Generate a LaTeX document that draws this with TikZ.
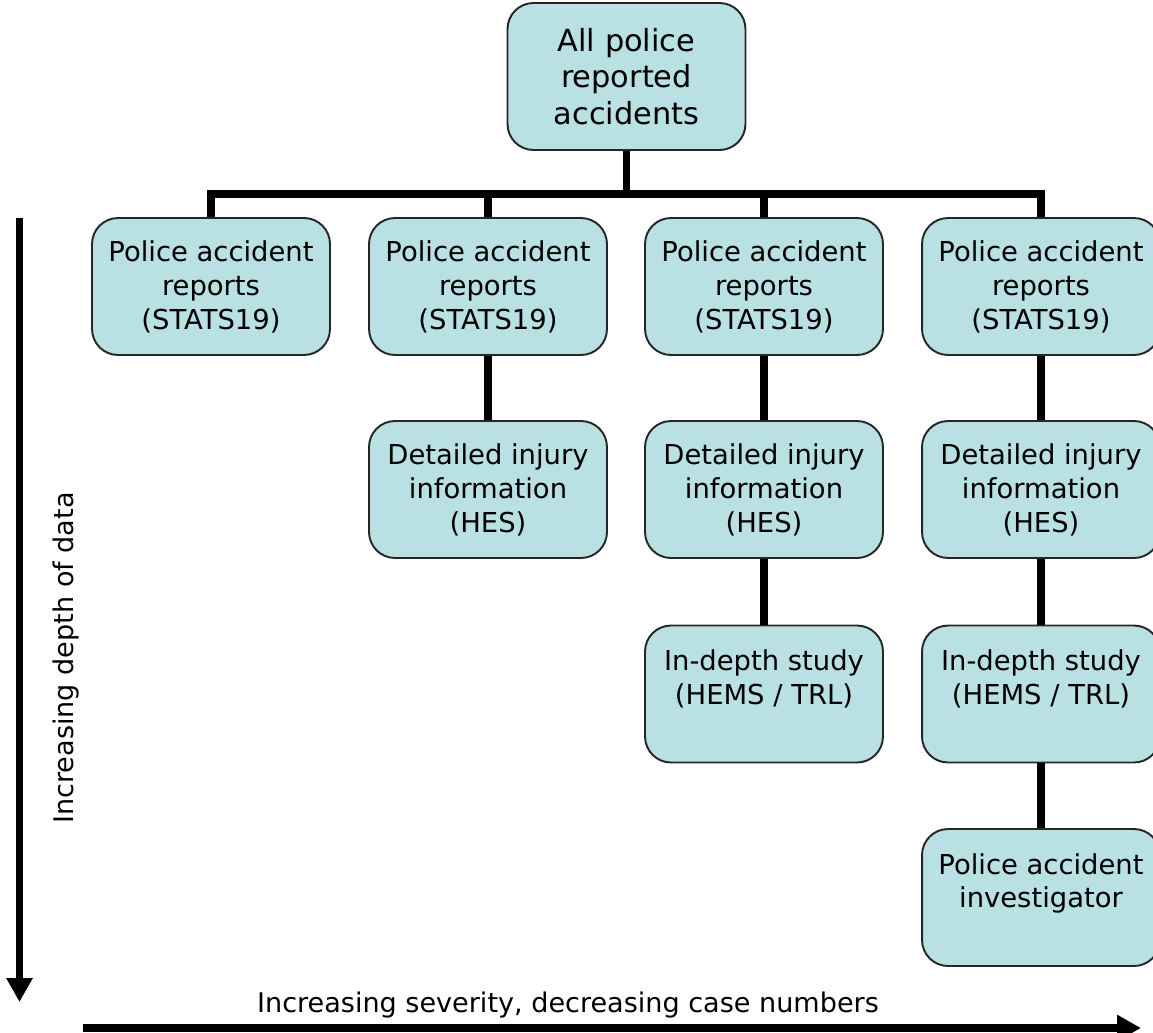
\documentclass[tikz,border=0pt]{standalone}
\usepackage{fontspec}
\setmainfont{DejaVu Sans}
\usetikzlibrary{arrows.meta,positioning}
\definecolor{boxfill}{RGB}{185,224,227}

\begin{document}
\begin{tikzpicture}[x=0.02cm, y=-0.02cm,
    stage/.style={draw=black!85, line width=1.1pt, fill=boxfill, rounded corners=0.52cm,
        minimum width=4.76cm, minimum height=2.74cm, align=center,
        font=\fontsize{15.6}{19.3}\selectfont},
    link/.style={line width=4.4pt},
    axisarrow/.style={line width=#1, -{Triangle[length=0.48cm,width=0.5cm]}},
    axislabel/.style={font=\fontsize{15.4}{18}\selectfont, anchor=base}]

    \clip (0,0) rectangle (1153,1032);

    % top of the tree
    \node[stage, minimum height=2.94cm, font=\fontsize{17.3}{20.8}\selectfont] (all) at (626.5,76.5) {All police\\reported\\accidents};

    % first row
    \node[stage] (rep1) at (211,286.5) {Police accident\\reports\\(STATS19)};
    \node[stage] (rep2) at (488,286.5) {Police accident\\reports\\(STATS19)};
    \node[stage] (rep3) at (764,286.5) {Police accident\\reports\\(STATS19)};
    \node[stage] (rep4) at (1041,286.5) {Police accident\\reports\\(STATS19)};

    % deeper rows
    \node[stage] (hes2) at (488,489.5) {Detailed injury\\information\\(HES)};
    \node[stage] (hes3) at (764,489.5) {Detailed injury\\information\\(HES)};
    \node[stage] (hes4) at (1041,489.5) {Detailed injury\\information\\(HES)};
    \node[stage] (hems3) at (764,694) {In-depth study\\(HEMS / TRL)\\ \mbox{}};
    \node[stage] (hems4) at (1041,694) {In-depth study\\(HEMS / TRL)\\ \mbox{}};
    \node[stage] (inv4) at (1041,897.5) {Police accident\\investigator\\ \mbox{}};

    % connectors
    \coordinate (bus) at (626,194);
    \draw[link] (all.south) -- (all.south |- bus);
    \draw[link] (rep1.north) -- (rep1.north |- bus) -- (rep4.north |- bus) -- (rep4.north);
    \draw[link] (rep2.north) -- (rep2.north |- bus);
    \draw[link] (rep3.north) -- (rep3.north |- bus);
    \draw[link] (rep2.south) -- (hes2.north);
    \draw[link] (rep3.south) -- (hes3.north);
    \draw[link] (rep4.south) -- (hes4.north);
    \draw[link] (hes3.south) -- (hems3.north);
    \draw[link] (hes4.south) -- (hems4.north);
    \draw[link] (hems4.south) -- (inv4.north);

    % axes
    \coordinate (depthstart) at (19.5,218);
    \coordinate (depthend) at (19.5,1002);
    \coordinate (sevstart) at (83,1028);
    \coordinate (sevend) at (1141,1028);
    \draw[axisarrow=4.5pt] (depthstart) -- (depthend);
    \draw[axisarrow=5pt] (sevstart) -- (sevend);
    \node[axislabel, rotate=90] (depthlabel) at (73,658) {Increasing depth of data};
    \node[axislabel] (sevlabel) at (568,1012) {Increasing severity, decreasing case numbers};
\end{tikzpicture}
\end{document}
